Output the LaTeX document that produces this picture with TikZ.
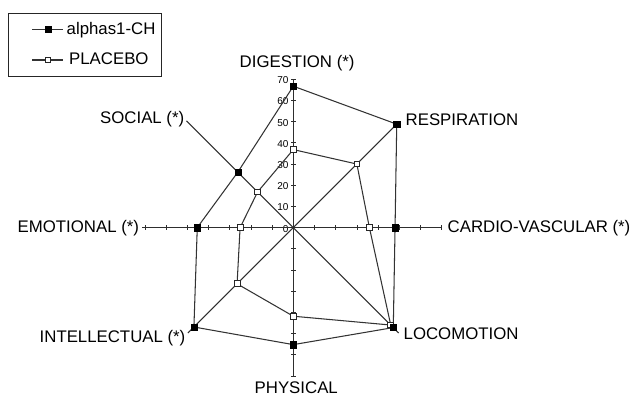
\documentclass[tikz,border=0pt]{standalone}
\usepackage{fontspec}
\setmainfont{Liberation Sans}
\begin{document}
\begin{tikzpicture}[x=1pt,y=1pt,
  ln/.style={draw=black!80, line width=1.05pt, line join=round},
  axisline/.style={draw=black!82, line width=1.05pt},
  tickm/.style={draw=black!82, line width=0.8pt},
  lbl/.style={inner sep=0pt, anchor=base west, font=\fontsize{16.8}{18}\selectfont},
  num/.style={inner sep=0pt, anchor=east, font=\fontsize{10}{11}\selectfont},
  filledmark/.style={shape=rectangle, fill=black, draw=black, line width=0.4pt, minimum size=6.2pt, inner sep=0pt},
  openmark/.style={shape=rectangle, fill=white, draw=black!85, line width=0.9pt, minimum size=5.8pt, inner sep=0pt}]
\useasboundingbox (0,0) rectangle (634,397);
\fill[white] (0,0) rectangle (634,397);
\coordinate (C) at (293.3,169.4);
\begin{scope}[shift={(C)}]
  % axis end points
  \coordinate (e-dig) at (0,149);
  \coordinate (e-resp) at (45:149);
  \coordinate (e-card) at (148.4,0);
  \coordinate (e-loco) at (-45:149);
  \coordinate (e-phys) at (0,-149);
  \coordinate (e-intel) at (-135:149);
  \coordinate (e-emot) at (-151.3,0);
  \coordinate (e-soc) at (135:151);
  \coordinate (o) at (0,0);
  % tick labels
  \foreach \k in {0,...,7} {
    \pgfmathtruncatemacro{\v}{\k*10}
    \node[num] (n\k) at (-4.6,\k*21.2-1) {\v};
  }
  % axes
  \foreach \n in {dig,resp,card,loco,phys,intel,emot,soc}
    \draw[axisline] (o) -- (e-\n);
  % ticks
  \foreach \k in {1,...,7} {
    \draw[tickm] (\k*21.2,-2.3) -- (\k*21.2,2.3);
    \draw[tickm] (-\k*21.2,-2.3) -- (-\k*21.2,2.3);
    \draw[tickm] (-2.3,\k*21.2) -- (2.3,\k*21.2);
    \draw[tickm] (-2.3,-\k*21.2) -- (2.3,-\k*21.2);
  }
  % alphas1-CH data
  \coordinate (a-dig) at (90:66.7*2.12);
  \coordinate (a-resp) at (45:69*2.12);
  \coordinate (a-card) at (0:48*2.12);
  \coordinate (a-loco) at (-45:66.7*2.12);
  \coordinate (a-phys) at (-90:55.2*2.12);
  \coordinate (a-intel) at (-135:66.3*2.12);
  \coordinate (a-emot) at (180:45.3*2.12);
  \coordinate (a-soc) at (135:37*2.12);
  % placebo data
  \coordinate (p-dig) at (90:36.8*2.12);
  \coordinate (p-resp) at (45:42.4*2.12);
  \coordinate (p-card) at (0:35.9*2.12);
  \coordinate (p-loco) at (-45:65*2.12);
  \coordinate (p-phys) at (-90:41.8*2.12);
  \coordinate (p-intel) at (-135:37.5*2.12);
  \coordinate (p-emot) at (180:25.1*2.12);
  \coordinate (p-soc) at (135:23.8*2.12);
  \draw[ln] (p-dig) -- (p-resp) -- (p-card) -- (p-loco) -- (p-phys) -- (p-intel) -- (p-emot) -- (p-soc) -- cycle;
  \draw[ln] (a-dig) -- (a-resp) -- (a-card) -- (a-loco) -- (a-phys) -- (a-intel) -- (a-emot) -- (a-soc) -- cycle;
  \foreach \n in {dig,resp,card,loco,phys,intel,emot,soc} {
    \node[openmark] (mp-\n) at (p-\n) {};
    \node[filledmark] (ma-\n) at (a-\n) {};
  }
\end{scope}
% axis labels
\node[lbl] (l-dig) at (239.5,329.8) {DIGESTION (*)};
\node[lbl] (l-resp) at (405.5,271.2) {RESPIRATION};
\node[lbl] (l-card) at (447.5,164.8) {CARDIO-VASCULAR (*)};
\node[lbl] (l-loco) at (403.5,57.2) {LOCOMOTION};
\node[lbl] (l-phys) at (254.5,3.2) {PHYSICAL};
\node[lbl] (l-intel) at (39.5,54.6) {INTELLECTUAL (*)};
\node[lbl] (l-emot) at (17.5,164.6) {EMOTIONAL (*)};
\node[lbl] (l-soc) at (100,273.6) {SOCIAL (*)};
% legend
\draw[black!85, line width=1pt] (8.3,320.3) rectangle (161.7,383.7);
\coordinate (lg1a) at (32,367.7);
\coordinate (lg1b) at (63,367.7);
\coordinate (lg2a) at (32,337);
\coordinate (lg2b) at (63,337);
\draw[ln] (lg1a) -- (lg1b);
\draw[ln] (lg2a) -- (lg2b);
\node[filledmark] (lgm1) at (48,367.7) {};
\node[openmark] (lgm2) at (48,337) {};
\node[lbl] (lgt1) at (66.5,362) {alphas1-CH};
\node[lbl] (lgt2) at (69,332) {PLACEBO};
\end{tikzpicture}
\end{document}
